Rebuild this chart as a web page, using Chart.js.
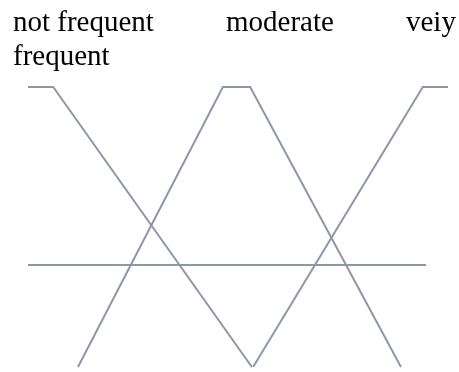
<!DOCTYPE html>
<html>
<head>
<meta charset="utf-8">
<script src="https://cdn.jsdelivr.net/npm/chart.js@4/dist/chart.umd.min.js"></script>
<style>
  html, body { margin: 0; padding: 0; background: #fff; }
  #wrap { position: relative; width: 459px; height: 372px; overflow: hidden; }
  #chart { position: absolute; left: 0; top: 0; }
  .lbl {
    position: absolute;
    font-family: "Liberation Serif", "Times New Roman", serif;
    font-size: 29px;
    line-height: 29px;
    color: #000;
    white-space: nowrap;
  }
</style>
</head>
<body>
<div id="wrap">
  <canvas id="chart" width="459" height="372"></canvas>
  <div class="lbl" style="left:13px; top:7px;">not frequent</div>
  <div class="lbl" style="left:226px; top:7px;">moderate</div>
  <div class="lbl" style="left:406px; top:7px;">veiy</div>
  <div class="lbl" style="left:13px; top:41px;">frequent</div>
</div>
<script>
// membership shapes, x in 0..100, y: 1 = full, 0 = bottom of the legs
const notFrequentX = [0, 6, 53.3];
const notFrequentY = [1, 1, 0];

const moderateX = [11.9, 46.4, 52.9, 88.8];
const moderateY = [0, 1, 1, 0];

const veryFrequentX = [53.6, 94, 100];
const veryFrequentY = [0, 1, 1];

const baseLineX = [0, 94.8];
const baseLineY = [0.364, 0.364];

const lineColor = '#8e96aa';

function toPoints(xs, ys) {
  return xs.map((x, i) => ({ x, y: ys[i] }));
}

function lineSet(label, xs, ys) {
  return {
    label,
    data: toPoints(xs, ys),
    showLine: true,
    borderColor: lineColor,
    borderWidth: 2,
    pointRadius: 0,
    tension: 0,
    fill: false,
    clip: false,
  };
}

new Chart(document.getElementById('chart'), {
  type: 'scatter',
  data: {
    datasets: [
      lineSet('not frequent', notFrequentX, notFrequentY),
      lineSet('moderate', moderateX, moderateY),
      lineSet('veiy frequent', veryFrequentX, veryFrequentY),
      lineSet('axis', baseLineX, baseLineY),
    ],
  },
  options: {
    responsive: false,
    animation: false,
    layout: {
      padding: { left: 28, right: 11, top: 87, bottom: 5 },
    },
    plugins: {
      legend: { display: false },
      tooltip: { enabled: false },
    },
    scales: {
      x: { type: 'linear', min: 0, max: 100, display: false },
      y: { type: 'linear', min: 0, max: 1, display: false },
    },
  },
});
</script>
</body>
</html>
